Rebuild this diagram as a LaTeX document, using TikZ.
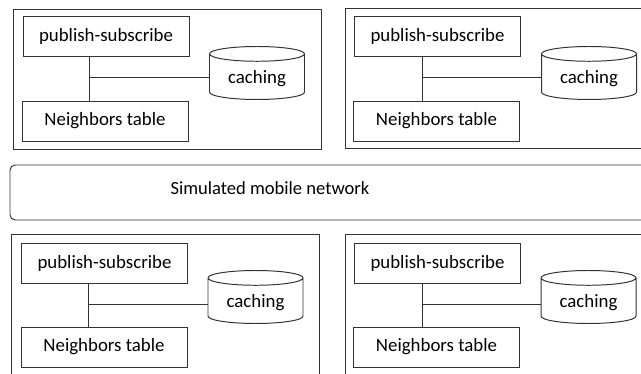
\documentclass[tikz,border=0pt]{standalone}
\usepackage{fontspec}
\setmainfont{Carlito}
\usepackage{tikz}
\usetikzlibrary{shapes.geometric, positioning}

\begin{document}
\begin{tikzpicture}[
    x=0.25mm, y=-0.25mm, line width=0.7pt,
    % Styles
    nodebox/.style={rectangle, draw=black!80, minimum width=77mm, minimum height=35mm},
    box/.style={rectangle, draw=black!80, minimum width=41.5mm, minimum height=10mm, font=\fontsize{13.4}{16}\selectfont},
    store/.style={cylinder, shape border rotate=90, draw=black!80, aspect=0.22, anchor=shape center, minimum width=23.75mm, minimum height=13.25mm, font=\fontsize{13.4}{16}\selectfont},
    netbox/.style={rectangle, draw=black!80, rounded corners=1.3mm, minimum width=162.5mm, minimum height=13.75mm},
    link/.style={draw=black!80},
]
\useasboundingbox (0,0) rectangle (641,374);
\clip (0,0) rectangle (641,374);

% === TOP LEFT NODE ===
\node[nodebox] (peer1) at (167,79) {};
\node[box] (ps1) at (106,36.5) {publish-subscribe};
\node[box] (nb1) at (105,121) {Neighbors table};
\node[store] (cache1) at (257,73) {caching};
\coordinate (j1) at (89,77);
\draw[link] (j1 |- ps1.south) -- (j1 |- nb1.north);
\draw[link] (j1) -- (j1 -| cache1.west);

% === TOP RIGHT NODE ===
\node[nodebox] (peer2) at (499,78.5) {};
\node[box] (ps2) at (437.5,36.5) {publish-subscribe};
\node[box] (nb2) at (436.5,121) {Neighbors table};
\node[store] (cache2) at (589,73) {caching};
\coordinate (j2) at (422,77);
\draw[link] (j2 |- ps2.south) -- (j2 |- nb2.north);
\draw[link] (j2) -- (j2 -| cache2.west);

% === NETWORK ===
\node[netbox] (net) at (335,192.5) {};
\node[font=\fontsize{13.2}{16}\selectfont] (netlabel) at (270,188) {Simulated mobile network};

% === BOTTOM LEFT NODE ===
\node[nodebox] (peer3) at (165.5,304) {};
\node[box] (ps3) at (104.5,263.5) {publish-subscribe};
\node[box] (nb3) at (104,347) {Neighbors table};
\node[store] (cache3) at (255.5,297) {caching};
\coordinate (j3) at (88,304);
\draw[link] (j3 |- ps3.south) -- (j3 |- nb3.north);
\draw[link] (j3) -- (j3 -| cache3.west);

% === BOTTOM RIGHT NODE ===
\node[nodebox] (peer4) at (499,304) {};
\node[box] (ps4) at (437.5,263.5) {publish-subscribe};
\node[box] (nb4) at (436.5,347) {Neighbors table};
\node[store] (cache4) at (588.5,297) {caching};
\coordinate (j4) at (422,304);
\draw[link] (j4 |- ps4.south) -- (j4 |- nb4.north);
\draw[link] (j4) -- (j4 -| cache4.west);

\end{tikzpicture}
\end{document}
